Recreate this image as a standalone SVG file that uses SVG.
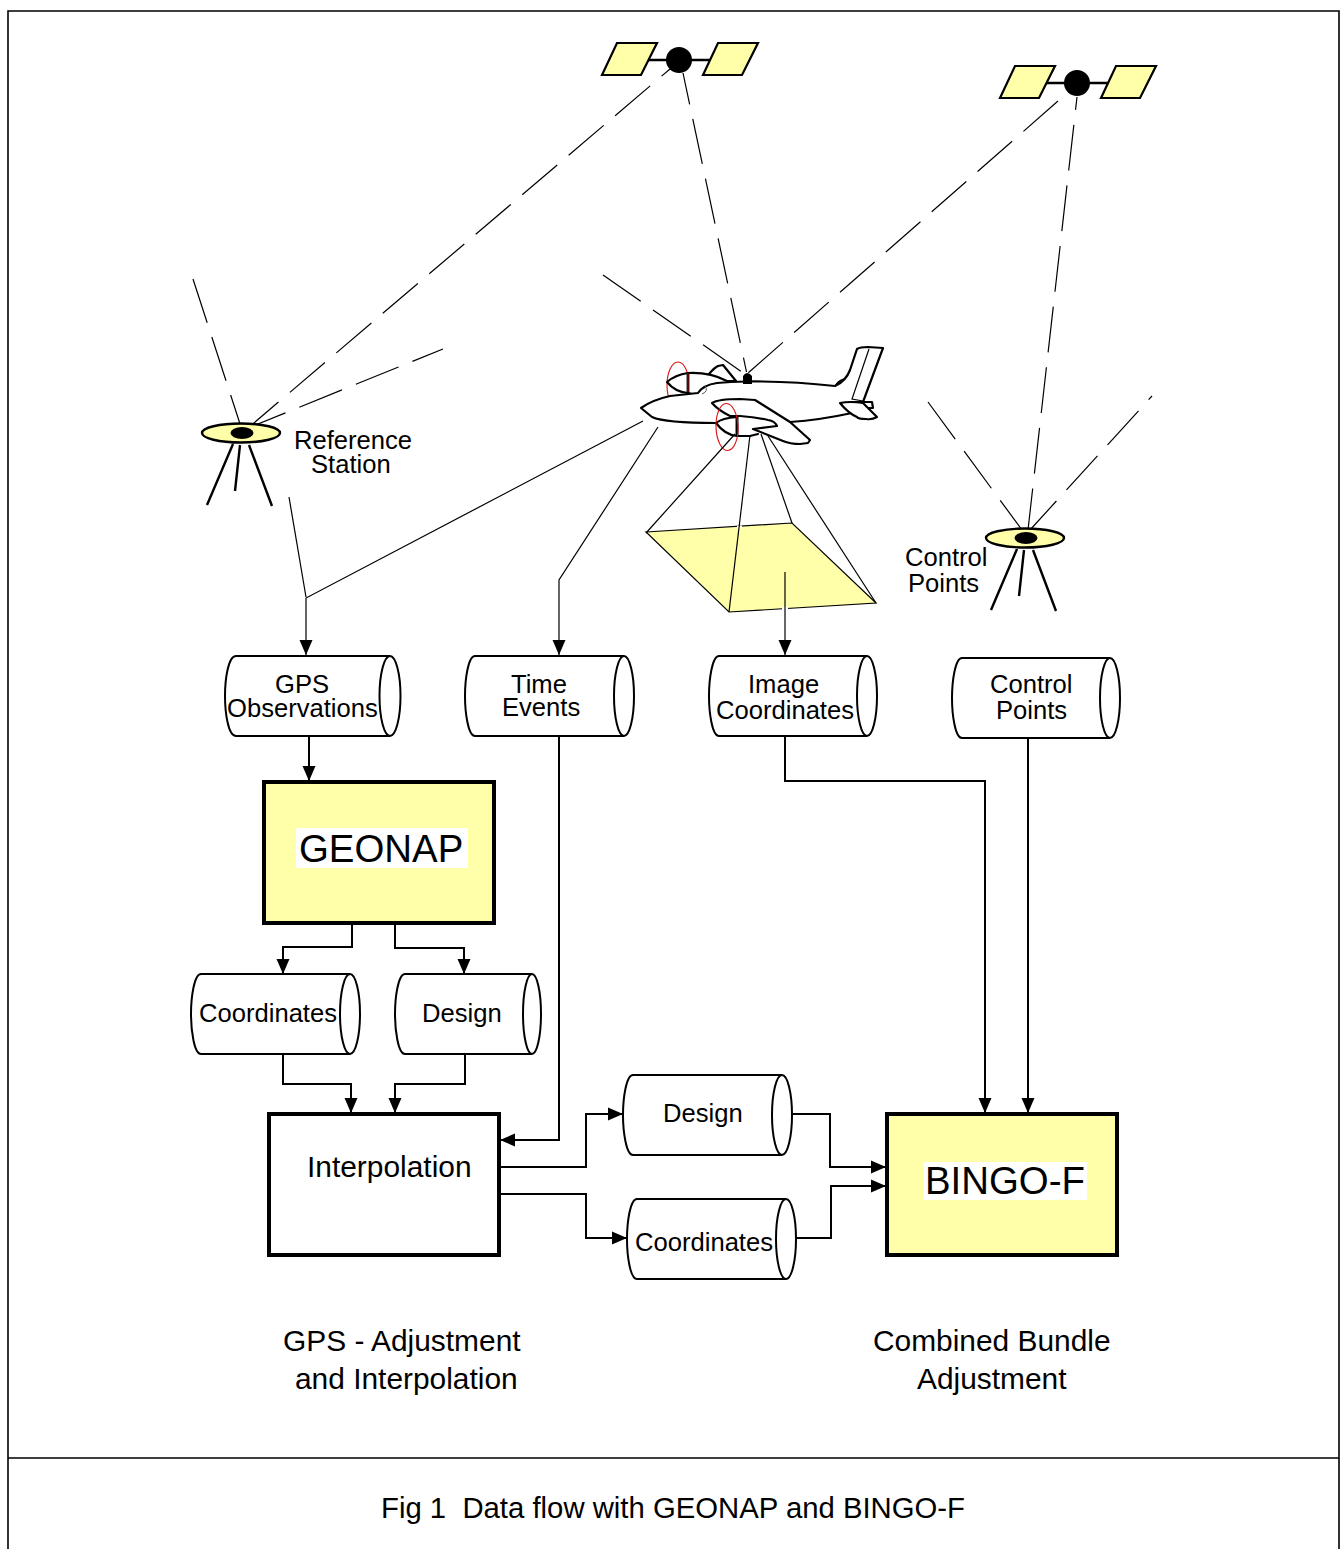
<svg xmlns="http://www.w3.org/2000/svg" width="1341" height="1549" viewBox="0 0 1341 1549">
<style>
text{font-family:"Liberation Sans",Arial,sans-serif;fill:#000}
.s{font-size:25.6px}.m{font-size:29.9px}.l{font-size:38.4px}
.cyl{fill:#fff;stroke:#000;stroke-width:2}
.box{stroke:#000;stroke-width:4}
.y{fill:#ffffaa}
.flow{fill:none;stroke:#000;stroke-width:2}
.thin{fill:none;stroke:#000;stroke-width:1.2}
.dash{fill:none;stroke:#000;stroke-width:1.2;stroke-dasharray:46 15}
.pl{fill:#fff;stroke:#000;stroke-width:2.2;stroke-linejoin:round}
.ln{fill:none;stroke:#000;stroke-width:2.2;stroke-linejoin:round;stroke-linecap:round}
.leg{fill:none;stroke:#000;stroke-width:2.4}
.red{fill:none;stroke:#e01010;stroke-width:1.1}
</style>
<defs>
<marker id="a" markerUnits="userSpaceOnUse" markerWidth="16" markerHeight="14" refX="15" refY="7" orient="auto"><path d="M0,0.5L15,7L0,13.5Z" fill="#000"/></marker>
<g id="sat">
<path d="M-36,0H40" stroke="#000" stroke-width="2.4"/>
<path class="y" stroke="#000" stroke-width="2.2" d="M-77,15L-62,-17H-22L-38,15ZM24,15L39,-17H79L63,15Z"/>
<circle r="13" fill="#000"/>
</g>
<g id="tripod">
<ellipse rx="39" ry="9.500" class="y" stroke="#000" stroke-width="2.400"/>
<ellipse cx="1" rx="11.500" ry="6" fill="#000"/>
<path class="leg" d="M-8,11L-34,72M-1,12L-6,58M8,12L31,73"/>
</g>
</defs>
<rect width="1341" height="1549" fill="#fff"/>
<g id="frame" fill="none" stroke="#000" stroke-width="1.6">
<path d="M8,1549V11H1339V1549M8,1458H1339"/>
</g>

<g id="image-footprint">
<polygon points="646,532 792,523 876,603 729,612" class="y" stroke="#000" stroke-width="1.2"/>
<path d="M737,527.2L742,526.9M782,608.6L788,608.2" stroke="#fff" stroke-width="3"/>
</g>

<g id="connectors">
<path class="dash" style="stroke-dashoffset:6" d="M248,428L670,69"/>
<path class="dash" style="stroke-dashoffset:14" d="M683,73L746.500,372"/>
<path class="dash" d="M1058,101L748,373"/>
<path class="dash" style="stroke-dashoffset:33" d="M1077,97L1028,530"/>
<path class="dash" d="M193,279L241,427"/>
<path class="dash" style="stroke-dashoffset:13" d="M443,349L248,428"/>
<path class="dash" d="M603,275L742,372"/>
<path class="dash" d="M928,402L1022,530"/>
<path class="dash" style="stroke-dashoffset:41" d="M1152,396L1030,530"/>
<path class="thin" d="M289,497L306,597"/>
<path class="thin" d="M643,421L306,598V655" marker-end="url(#a)"/>
<path class="thin" d="M658,427L559,580V655" marker-end="url(#a)"/>
<path class="thin" d="M750,435L729,612"/>
<path class="thin" d="M761,434L792,523"/>
<path class="thin" d="M768,436L876,603"/>
<path class="thin" d="M785,572V655" marker-end="url(#a)"/>
<path class="flow" d="M309,736V781" marker-end="url(#a)"/>
<path class="flow" d="M559,736V1140H500" marker-end="url(#a)"/>
<path class="flow" d="M785,736V781H985V1113" marker-end="url(#a)"/>
<path class="flow" d="M1028,738V1113" marker-end="url(#a)"/>
<path class="flow" d="M352,923V947H283V974" marker-end="url(#a)"/>
<path class="flow" d="M395,923V948H464V974" marker-end="url(#a)"/>
<path class="flow" d="M283,1054V1084H351V1113" marker-end="url(#a)"/>
<path class="flow" d="M465,1054V1084H395V1113" marker-end="url(#a)"/>
<path class="flow" d="M500,1167H586V1114H623" marker-end="url(#a)"/>
<path class="flow" d="M500,1194H586V1238H627" marker-end="url(#a)"/>
<path class="flow" d="M792,1114H830V1167H886" marker-end="url(#a)"/>
<path class="flow" d="M796,1238H831V1186H886" marker-end="url(#a)"/>
</g>

<use id="satellite-1" href="#sat" x="679" y="60"/>
<use id="satellite-2" href="#sat" x="1077" y="83"/>

<g id="aircraft">
<ellipse cx="678" cy="385" rx="11" ry="23" class="red"/>
<path class="pl" d="M709,374Q714,368 718,366L723,365L736,381H709Z"/>
<path class="pl" d="M667,382Q675,375 688,373Q710,372 727,381L736,383L700,396L688,393Q675,392 667,382Z"/>
<path fill="#fff" d="M641,408Q652,400 670,396L698,393Q703,385 717,383Q730,382 747,381.500Q790,381 835,386Q846,381 850,370L857,349Q860,347 868,347L883,348L863,402L852,413Q820,420 790,422L716,423Q665,423 652,417Z"/>
<path class="ln" d="M716,423Q665,423 652,417L641,408Q652,400 670,396L698,393Q703,385 717,383Q730,382 747,381.500Q790,381 835,386Q846,381 850,370L857,349Q860,347 868,347L883,348L863,402M790,422Q820,420 852,413"/>
<path d="M705,386Q709,391 702,394" fill="none" stroke="#555" stroke-width="1"/>
<path d="M835,386Q838,381 844,379" fill="none" stroke="#000" stroke-width="1.400"/>
<path class="thin" d="M869,349L852,399L863,401"/>
<path class="pl" d="M852,402H872L873,408H866Z"/>
<path class="pl" d="M840,403Q850,401 863,403L877,417Q872,420 866,419Q858,419 857,417Q848,413 840,403Z"/>
<path class="pl" d="M712,403Q718,399 740,399L755,400L790,422L810,440L808,443L800,444Q790,444 783,441L753,429L777,426Q775,421 768,420Q755,417 740,416L730,416Q718,410 712,403Z"/>
<path class="pl" d="M716,423Q722,418 737,417V436Q725,435 716,423Z"/>
<path class="ln" d="M737,436H750L758,434"/>
<path d="M688,373L688,393M737,417V436" stroke="#000" stroke-width="2.800" fill="none"/>
<path d="M688,373L688,392" stroke="#b01010" stroke-width="1" fill="none"/>
<ellipse cx="727" cy="427" rx="11" ry="23.500" class="red" transform="rotate(-2 727 427)"/>
<path class="thin" d="M735,434L646,533"/>
<path d="M743,384V376Q747,370 752,376V384Z" fill="#000"/>
</g>

<g id="reference-station">
<use href="#tripod" x="241" y="433"/>
<text class="s" x="294" y="449">Reference</text>
<text class="s" x="311" y="473">Station</text>
</g>
<g id="control-station">
<use href="#tripod" x="1025" y="538"/>
<text class="s" x="905" y="566">Control</text>
<text class="s" x="908" y="592">Points</text>
</g>

<g id="gps-observations">
<path class="cyl" d="M390,656H236C228,656 225,680 225,696C225,712 228,736 236,736H390"/>
<ellipse class="cyl" cx="390" cy="696" rx="10.500" ry="40"/>
<text class="s" x="275" y="693">GPS</text>
<text class="s" x="227" y="717">Observations</text>
</g>
<g id="time-events">
<path class="cyl" d="M624,656H475C468,656 465,680 465,696C465,712 468,736 475,736H624"/>
<ellipse class="cyl" cx="624" cy="696" rx="10" ry="40"/>
<text class="s" x="511" y="693">Time</text>
<text class="s" x="502" y="716">Events</text>
</g>
<g id="image-coordinates">
<path class="cyl" d="M867,656H719C712,656 709,680 709,696C709,712 712,736 719,736H867"/>
<ellipse class="cyl" cx="867" cy="696" rx="10" ry="40"/>
<text class="s" x="748" y="693">Image</text>
<text class="s" x="716" y="719">Coordinates</text>
</g>
<g id="control-points">
<path class="cyl" d="M1110,658H962C955,658 952,682 952,698C952,714 955,738 962,738H1110"/>
<ellipse class="cyl" cx="1110" cy="698" rx="10" ry="40"/>
<text class="s" x="990" y="693">Control</text>
<text class="s" x="996" y="719">Points</text>
</g>

<g id="geonap">
<rect x="264" y="782" width="230" height="141" class="box y"/>
<rect x="296" y="828" width="172" height="40" fill="#fff"/>
<text class="l" x="299" y="862">GEONAP</text>
</g>
<g id="coordinates-1">
<path class="cyl" d="M350,974H201C194,974 191,998 191,1014C191,1030 194,1054 201,1054H350"/>
<ellipse class="cyl" cx="350" cy="1014" rx="10" ry="40"/>
<text class="s" x="199" y="1022">Coordinates</text>
</g>
<g id="design-1">
<path class="cyl" d="M532,974H405C398,974 395,998 395,1014C395,1030 398,1054 405,1054H532"/>
<ellipse class="cyl" cx="532" cy="1014" rx="9" ry="40"/>
<text class="s" x="422" y="1022">Design</text>
</g>
<g id="interpolation">
<rect x="269" y="1114" width="230" height="141" fill="#fff" class="box"/>
<text class="m" x="307" y="1177">Interpolation</text>
</g>
<g id="design-2">
<path class="cyl" d="M782,1075H633C626,1075 623,1099 623,1115C623,1131 626,1155 633,1155H782"/>
<ellipse class="cyl" cx="782" cy="1115" rx="10" ry="40"/>
<text class="s" x="663" y="1122">Design</text>
</g>
<g id="coordinates-2">
<path class="cyl" d="M786,1199H637C630,1199 627,1223 627,1239C627,1255 630,1279 637,1279H786"/>
<ellipse class="cyl" cx="786" cy="1239" rx="10" ry="40"/>
<text class="s" x="635" y="1251">Coordinates</text>
</g>
<g id="bingo-f">
<rect x="887" y="1114" width="230" height="141" class="box y"/>
<rect x="924" y="1162" width="163" height="38" fill="#fff"/>
<text class="l" x="925" y="1194">BINGO-F</text>
</g>

<g id="captions">
<text class="m" x="283" y="1351">GPS - Adjustment</text>
<text class="m" x="295" y="1389">and Interpolation</text>
<text class="m" x="873" y="1351">Combined Bundle</text>
<text class="m" x="917" y="1389">Adjustment</text>
<text class="m" x="381" y="1518" style="font-size:29.3px" xml:space="preserve">Fig 1  Data flow with GEONAP and BINGO-F</text>
</g>
</svg>
